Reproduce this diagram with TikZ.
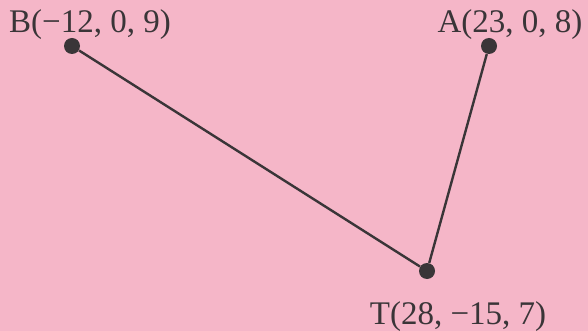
\documentclass[tikz,border=0pt]{standalone}
\usepackage{fontspec}
\setmainfont{Liberation Serif}
\usepackage{xcolor}
\definecolor{page-pink}{HTML}{F5B6C8}
\definecolor{ink}{HTML}{3A3538}

\begin{document}
\begin{tikzpicture}[x=0.5pt, y=-0.5pt,
    pt/.style={circle, fill=ink, inner sep=0pt, minimum size=8pt},
    lbl/.style={anchor=base, inner sep=0pt, text=ink, font=\fontsize{16.5}{19}\selectfont}]
    % background page
    \fill[page-pink] (0,0) rectangle (588,331);
    \useasboundingbox (0,0) rectangle (588,331);
    % points
    \node[pt] (B) at (72,46) {};
    \node[pt] (A) at (489,46) {};
    \node[pt] (T) at (427,271) {};
    % coordinates
    \node[lbl] (Blbl) at (90,33) {B(\textminus12, 0, 9)};
    \node[lbl] (Albl) at (510,33) {A(23, 0, 8)};
    \node[lbl] (Tlbl) at (458,324) {T(28, \textminus15, 7)};
    % edges
    \draw[ink, line width=1.2pt] (B) -- (T) -- (A);
\end{tikzpicture}
\end{document}
